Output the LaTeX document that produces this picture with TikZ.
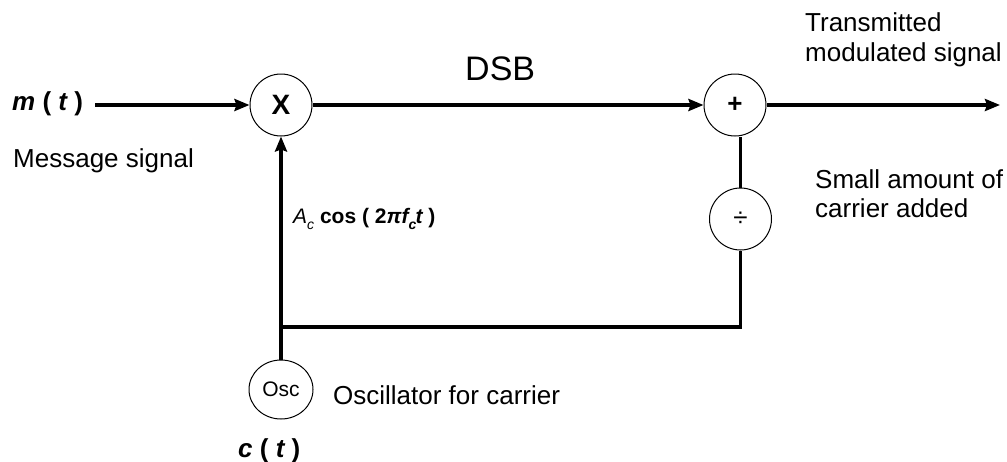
\documentclass[tikz,border=0pt]{standalone}
\usepackage{fontspec}
\setmainfont{Liberation Sans}
\usetikzlibrary{positioning,shapes.geometric,arrows.meta}

\tikzset{
  block/.style={draw, circle, line width=1pt, minimum size=62pt, inner sep=0pt, font=\fontsize{26}{30}\selectfont},
  oscbox/.style={draw, ellipse, line width=1pt, minimum width=64pt, minimum height=59pt, inner sep=0pt, font=\fontsize{21}{24}\selectfont},
  lbl/.style={inner sep=0pt, font=\fontsize{26}{30}\selectfont, align=left},
  sig/.style={line width=3.5pt},
  arr/.style={sig, -{Stealth[length=15pt,width=12pt,inset=2pt]}},
}
\newcommand{\lowsub}[1]{\raisebox{-6pt}{\fontsize{14}{14}\selectfont #1}}

\begin{document}
\begin{tikzpicture}[x=1pt,y=-1pt]
    \useasboundingbox (0,0) rectangle (1007,461);

    % define nodes
    \node[block, font=\fontsize{28}{30}\selectfont\bfseries] (mult) at (281,105) {X};
    \node[block, right=391pt of mult] (add) {\textbf{+}};
    \node[block, below=51pt of add, xshift=5.5pt] (atten) {÷};
    \node[oscbox, below=223pt of mult] (osc) {Osc};
    \coordinate[yshift=32.5pt] (tap) at (osc.north);
    \coordinate (out) at (1000,105);

    % labels
    \node[lbl, anchor=base west] (msg) at (12,110) {\bfseries\itshape m \upshape( \itshape t \upshape)};
    \node[lbl, anchor=base west] (msglbl) at (13,167) {Message signal};
    \node[lbl, anchor=base west, font=\fontsize{34}{40}\selectfont] (dsb) at (465,80) {DSB};
    \node[lbl, anchor=north west] (txlbl) at (805,12) {Transmitted\\modulated signal};
    \node[lbl, anchor=north west, font=\fontsize{26}{29.5}\selectfont] (carlbl) at (815,169) {Small amount of\\carrier added};
    \node[lbl, anchor=base west] (osclbl) at (333,404) {Oscillator for carrier};
    \node[lbl, anchor=base west] (ct) at (238,457) {\bfseries\itshape c \upshape( \itshape t \upshape)};
    \node[lbl, anchor=base west, font=\fontsize{21}{24}\selectfont] (carrier) at (293,223)
        {\textit{A}\lowsub{\itshape c} {\bfseries cos ( 2{\itshape π\/f}\lowsub{\bfseries\itshape c}\hspace{-1pt}{\itshape t} )}};

    % connect the nodes
    \draw[arr, shorten <=12pt] (msg.east |- mult.west) -- (mult);
    \draw[arr] (mult) -- (add);
    \draw[arr] (add) -- (out);
    \draw[arr] (osc) -- (mult);
    \draw[sig] (tap) -| (atten);
    \draw[sig] (atten) -- (atten |- add.south);

\end{tikzpicture}
\end{document}
